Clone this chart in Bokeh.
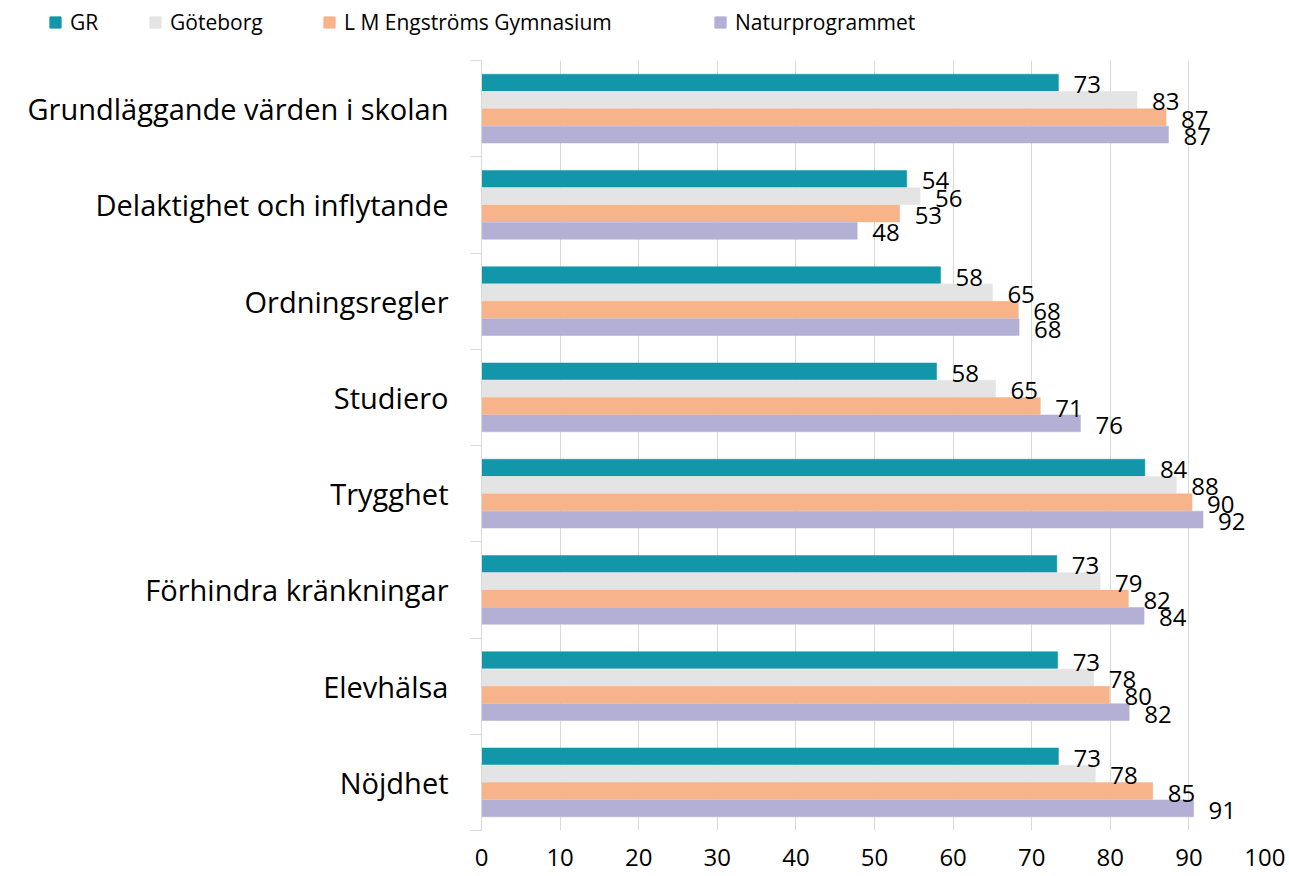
from bokeh.plotting import figure
from bokeh.layouts import column
from bokeh.models import ColumnDataSource, Range1d, FixedTicker, Legend, LegendItem, LabelSet
from bokeh.core.properties import value
from bokeh.embed import file_html
from bokeh.resources import INLINE

categories = ["Grundläggande värden i skolan", "Delaktighet och inflytande", "Ordningsregler",
              "Studiero", "Trygghet", "Förhindra kränkningar", "Elevhälsa", "Nöjdhet"]
series = ["GR", "Göteborg", "L M Engströms Gymnasium", "Naturprogrammet"]
gr = [73.4, 54.1, 58.4, 57.9, 84.4, 73.2, 73.3, 73.4]
goteborg = [83.4, 55.8, 65.0, 65.4, 88.4, 78.7, 77.9, 78.1]
lm = [87.1, 53.2, 68.3, 71.1, 90.4, 82.3, 79.9, 85.4]
natur = [87.4, 47.8, 68.4, 76.2, 91.8, 84.3, 82.4, 90.6]
colors = ["#1197a9", "#e4e4e4", "#f7b48b", "#b3afd5"]
x_ticks = list(range(0, 101, 10))

font = "Open Sans"
W = 1285
LH = 52            # legend strip height
H = 876 - LH       # main plot height
FL, FR = 481, 1267
FT, FB = 60 - LH, 830 - LH

# ---------- legend strip ----------
lf = figure(width=W, height=LH, output_backend="svg", toolbar_location=None,
            x_range=Range1d(0, W), y_range=Range1d(0, LH),
            x_axis_type=None, y_axis_type=None,
            min_border_left=0, min_border_right=0, min_border_top=0, min_border_bottom=0)
lf.frame_align = False
lf.outline_line_color = None
lf.xgrid.grid_line_color = None
lf.ygrid.grid_line_color = None
leg_x = [48, 148, 322, 713]
for name, col, lx in zip(series, colors, leg_x):
    # proxy glyph lies outside the visible range; it only supplies the legend swatch
    proxy = lf.hbar(y=[-100], left=[0], right=[1], height=1, fill_color=col, line_color=col)
    leg = Legend(items=[LegendItem(label=name, renderers=[proxy])],
                 location=(lx, LH - 36),
                 orientation="horizontal", margin=0, padding=0,
                 border_line_color=None, background_fill_alpha=0,
                 glyph_width=14, glyph_height=14, label_standoff=8,
                 label_text_font=font, label_text_font_size="21px",
                 label_text_color="#000000", label_height=20)
    lf.add_layout(leg, "center")

# ---------- main plot ----------
p = figure(width=W, height=H, output_backend="svg", toolbar_location=None,
           x_range=Range1d(0, 100), y_range=Range1d(len(categories), 0),
           min_border_left=FL, min_border_top=FT, min_border_right=W - FR,
           min_border_bottom=H - FB)
p.frame_align = False
p.outline_line_color = None
p.background_fill_color = "white"

offsets = [-0.27, -0.09, 0.09, 0.27]
bar_h = 0.175
all_vals = [gr, goteborg, lm, natur]
for j, (name, vals, col) in enumerate(zip(series, all_vals, colors)):
    ys = [i + 0.5 + offsets[j] for i in range(len(categories))]
    src = ColumnDataSource(dict(y=ys, right=vals, lab=[str(int(round(v))) for v in vals]))
    p.hbar(y="y", left=0, right="right", height=bar_h, source=src,
           fill_color=col, line_color=col, line_width=0.5)
    labels = LabelSet(x="right", y="y", text="lab", source=src, x_offset=15, y_offset=-2,
                      text_align="left", text_baseline="middle",
                      text_font=value(font), text_font_size="24px", text_color="#000000")
    p.add_layout(labels)

# x axis
p.xaxis.ticker = FixedTicker(ticks=x_ticks)
p.xaxis.axis_line_color = None
p.xaxis.major_tick_line_color = None
p.xaxis.minor_tick_line_color = None
p.xaxis.major_tick_out = 0
p.xaxis.major_tick_in = 0
p.xaxis.major_label_standoff = 18
p.xaxis.major_label_text_font = font
p.xaxis.major_label_text_font_size = "24px"
p.xaxis.major_label_text_color = "#000000"

p.xgrid.ticker = FixedTicker(ticks=x_ticks)
p.xgrid.grid_line_color = "#d9d9d9"
p.xgrid.grid_line_width = 1
p.ygrid.grid_line_color = None

# y axis
centers = [i + 0.5 for i in range(len(categories))]
bounds = [float(i) for i in range(len(categories) + 1)]
p.yaxis.ticker = FixedTicker(ticks=centers, minor_ticks=bounds)
p.yaxis.major_label_overrides = {c: cat for c, cat in zip(centers, categories)}
p.yaxis.axis_line_color = "#d9d9d9"
p.yaxis.axis_line_width = 1
p.yaxis.major_tick_line_color = None
p.yaxis.major_tick_out = 0
p.yaxis.major_tick_in = 0
p.yaxis.minor_tick_line_color = "#d9d9d9"
p.yaxis.minor_tick_out = 11
p.yaxis.minor_tick_in = 0
p.yaxis.major_label_standoff = 22
p.yaxis.major_label_text_font = font
p.yaxis.major_label_text_font_size = "29px"
p.yaxis.major_label_text_color = "#000000"

layout = column(lf, p, spacing=0)
open("out.html", "w").write(file_html(layout, INLINE))
